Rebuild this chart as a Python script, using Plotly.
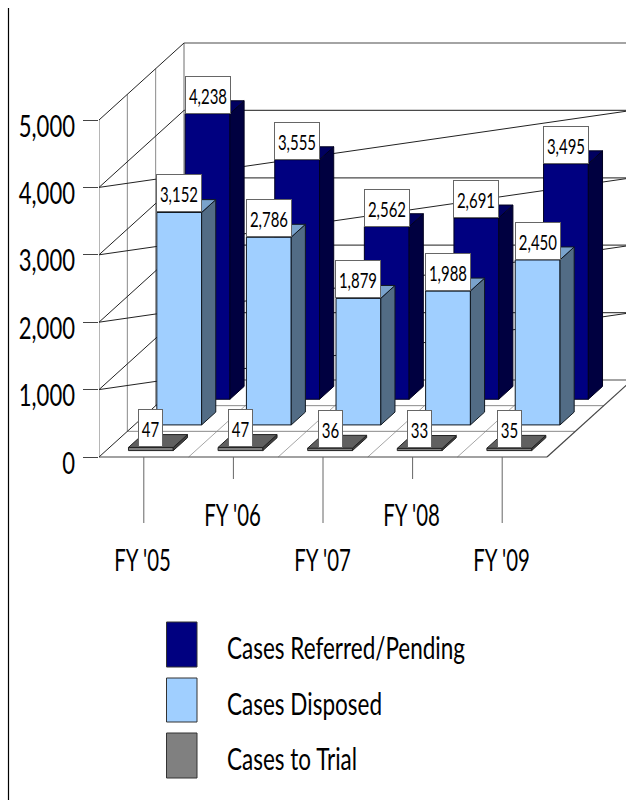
import plotly.graph_objects as go

categories = ["FY '05", "FY '06", "FY '07", "FY '08", "FY '09"]
referred = [4238, 3555, 2562, 2691, 3495]
disposed = [3152, 2786, 1879, 1988, 2450]
trial = [47, 47, 36, 33, 35]
y_ticks = [0, 1000, 2000, 3000, 4000, 5000]

W, H = 626, 800
FONT = "Lato, sans-serif"
PX_X0, PX_Y0 = 99.0, 457.0      # pixel position of category 0 / value 0
PX_PER_CAT = 89.6
PX_PER_VAL = 337 / 5000
DEPTH_X = 85 / PX_PER_CAT       # oblique offset at full depth, in category units
DEPTH_Y = 77 / PX_PER_VAL       # oblique offset at full depth, in value units


def proj(cat, depth, val):
    return cat + depth * DEPTH_X, val + depth * DEPTH_Y


def px_to_val(px):
    return (PX_Y0 - px) / PX_PER_VAL


fig = go.Figure()


def add_lines(segments, color, width=1):
    xs, ys = [], []
    for a, b in segments:
        for p in (a, b):
            x, y = proj(*p)
            xs.append(x)
            ys.append(y)
        xs.append(None)
        ys.append(None)
    fig.add_trace(go.Scatter(x=xs, y=ys, mode="lines", showlegend=False, hoverinfo="skip",
                             line=dict(color=color, width=width)))


n = len(categories)
top = y_ticks[-1]
# walls: verticals on the side wall
add_lines([((0, d, 0), (0, d, top)) for d in (1 / 3, 2 / 3)], "#8a8a8a")
add_lines([((0, d, 0), (0, d, top)) for d in (0, 1)], "#6e6e6e")
# floor grid
add_lines([((i, 0, 0), (i, 1, 0)) for i in range(1, n)], "#a6a6a6")
add_lines([((0, d, 0), (n, d, 0)) for d in (1 / 3, 2 / 3)], "#8a8a8a")
# back wall horizontals
add_lines([((0, 1, v), (n, 1, v)) for v in y_ticks], "#4a4a4a", 1.2)
# side-wall rising lines, plus the long diagonals
add_lines([((0, 0, v), (0, 1, v)) for v in y_ticks], "#222222")
add_lines([((0, 0, v), (n, 1, v)) for v in y_ticks[1:-1]], "#222222")
add_lines([((0, 0, 0), (n, 0, 0)), ((n, 0, 0), (n, 1, 0))], "#444444", 1.2)


def add_bars(name, values, d0, front, side, cap, edge):
    d1 = d0 + 1 / 6
    faces = {"front": ([], [], front), "side": ([], [], side), "top": ([], [], cap)}
    for i, v in enumerate(values):
        l, r = i + 0.25, i + 0.75
        polys = {
            "front": [(l, d0, 0), (r, d0, 0), (r, d0, v), (l, d0, v)],
            "side": [(r, d0, 0), (r, d1, 0), (r, d1, v), (r, d0, v)],
            "top": [(l, d0, v), (r, d0, v), (r, d1, v), (l, d1, v)],
        }
        for k, pts in polys.items():
            pts = pts + [pts[0]]
            for p in pts:
                x, y = proj(*p)
                faces[k][0].append(x)
                faces[k][1].append(y)
            faces[k][0].append(None)
            faces[k][1].append(None)
    for k, (xs, ys, c) in faces.items():
        fig.add_trace(go.Scatter(x=xs, y=ys, mode="lines", fill="toself", fillcolor=c, name=name,
                                 showlegend=False, hoverinfo="skip",
                                 line=dict(color=edge, width=1)))


series = [
    ("Cases Referred/Pending", referred, 0.75, "#000080", "#000040", "#000060", "#000020", 46),
    ("Cases Disposed", disposed, 5 / 12, "#A0CFFF", "#526C85", "#7AA3CC", "#101820", 46),
    ("Cases to Trial", trial, 1 / 12, "#808080", "#404040", "#606060", "#222222", 25),
]
annotations = []
for name, vals, d0, fc, sc, tc, ec, box_w in series:
    add_bars(name, vals, d0, fc, sc, tc, ec)

for name, vals, d0, fc, sc, tc, ec, box_w in series:
    for i, v in enumerate(vals):
        x, y = proj(i + 0.5, d0, v)
        annotations.append(dict(x=x, y=y, xref="x", yref="y", text=f"{v:,}", showarrow=False,
                                xanchor="center", yanchor="bottom", width=box_w - 2, height=36,
                                bgcolor="white", bordercolor="#666666", borderwidth=1, borderpad=0,
                                font=dict(family=FONT, size=22, color="#000000")))

# category ticks and labels
tick_segs = []
for i, c in enumerate(categories):
    low = i % 2 == 0
    tick_end = px_to_val(523 if low else 479)
    tick_segs.append(((i + 0.5, 0, 0), (i + 0.5, 0, tick_end)))
    annotations.append(dict(x=i + 0.5 - 0.01, y=1 - (559 if low else 514) / H, xref="x", yref="paper",
                            text=c, showarrow=False, xanchor="center", yanchor="middle",
                            font=dict(family=FONT, size=30, color="#000000")))
add_lines(tick_segs, "#666666")

# legend
legend_rows = [(series[0][0], series[0][3], 622, 667, 647),
               (series[1][0], series[1][3], 678, 722, 703),
               (series[2][0], series[2][3], 733, 778, 758)]
shapes = [dict(type="line", xref="paper", yref="paper", x0=8.5 / W, x1=8.5 / W, y0=0, y1=1 - 8 / H,
               line=dict(color="#000000", width=1.2))]
for label, color, y0, y1, yt in legend_rows:
    shapes.append(dict(type="rect", xref="paper", yref="paper", x0=166.5 / W, x1=197 / W,
                       y0=1 - y0 / H, y1=1 - y1 / H, fillcolor=color,
                       line=dict(color="#333333", width=1)))
    annotations.append(dict(x=225 / W, y=1 - yt / H, xref="paper", yref="paper", text=label,
                            showarrow=False, xanchor="left", yanchor="middle",
                            font=dict(family=FONT, size=30, color="#000000")))

fig.update_layout(
    width=W, height=H, margin=dict(l=0, r=0, t=0, b=0, autoexpand=False), autosize=False,
    paper_bgcolor="white", plot_bgcolor="white", showlegend=False,
    shapes=shapes, annotations=annotations,
    xaxis=dict(domain=[PX_X0 / W, 1], range=[0, (W - PX_X0) / PX_PER_CAT], visible=False,
               fixedrange=True, automargin=False),
    yaxis=dict(domain=[0, 1], range=[px_to_val(H), px_to_val(0)], tickvals=y_ticks,
               tickformat=",", showgrid=False, zeroline=False, showline=False, automargin=False,
               ticks="outside", ticklen=15, tickwidth=1, tickcolor="#444444",
               ticklabelstandoff=2, ticklabelshift=6,
               tickfont=dict(family=FONT, size=30, color="#000000"), fixedrange=True),
)

# The reference type is a condensed humanist face; narrow the installed one to the same widths.
condense = """
document.body.style.margin='0';document.body.style.overflow='hidden';
document.querySelectorAll('.main-svg text').forEach(function(t){
  var txt = t.textContent;
  var legend = txt.indexOf('Cases') === 0;
  var s = legend ? 0.75 : (t.closest('.annotation') ? 0.68 : 0.735);
  var w = t.getComputedTextLength();
  if (legend) t.setAttribute('x', (parseFloat(t.getAttribute('x')) - w*(1-s)/2).toFixed(1));
  t.setAttribute('lengthAdjust','spacingAndGlyphs');
  t.setAttribute('textLength', (w*s).toFixed(1));
});
"""
fig.write_html("out.html", config={"displayModeBar": False}, post_script=condense)
